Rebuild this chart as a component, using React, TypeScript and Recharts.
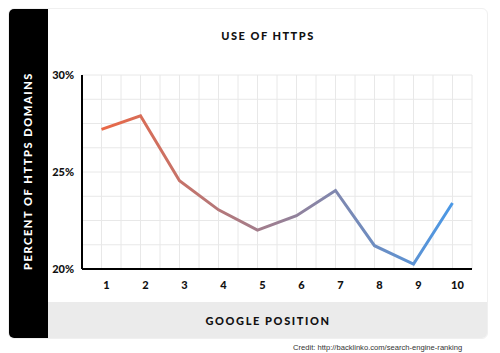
import { CartesianGrid, Line, LineChart, XAxis, YAxis } from "recharts";

// Google position (1..10) vs share of domains served over HTTPS
const positions = [1, 2, 3, 4, 5, 6, 7, 8, 9, 10];
const httpsShare = [27.2, 27.9, 24.55, 23.05, 22.0, 22.75, 24.05, 21.2, 20.25, 23.4];

// grid runs at half-steps on x and 1.25% steps on y; only some get a label
const xTicks = [0.5, 1, 1.5, 2, 2.5, 3, 3.5, 4, 4.5, 5, 5.5, 6, 6.5, 7, 7.5, 8, 8.5, 9, 9.5, 10, 10.5];
const yTicks = [20, 21.25, 22.5, 23.75, 25, 26.25, 27.5, 28.75, 30];
const yLabelled = [20, 25, 30];

const data = positions.map((p, i) => ({ position: p, share: httpsShare[i] }));

const FONT = "Lato, 'Open Sans', sans-serif";

export default function App() {
  return (
    <div style={{ position: "absolute", left: 0, top: 0, width: 500, height: 353, background: "#fff", fontFamily: FONT }}>
      {/* card */}
      <div
        style={{
          position: "absolute",
          left: 8,
          top: 8,
          width: 480,
          height: 331,
          border: "1px solid #f0f0f0",
          borderRadius: 6,
          boxSizing: "border-box",
          overflow: "hidden",
        }}
      >
        {/* black y-label strip */}
        <div style={{ position: "absolute", left: 0, top: 0, width: 39, height: "100%", background: "#000" }} />
        {/* grey x-label strip */}
        <div style={{ position: "absolute", left: 39, top: 293, right: 0, bottom: 0, background: "#ebebeb" }} />
      </div>

      <div
        style={{
          position: "absolute",
          left: 27,
          top: 171,
          transform: "translate(-50%, -50%) rotate(-90deg)",
          whiteSpace: "nowrap",
          color: "#fff",
          fontWeight: 900,
          fontSize: 11,
          letterSpacing: 1.6,
        }}
      >
        PERCENT OF HTTPS DOMAINS
      </div>

      <div
        style={{
          position: "absolute",
          left: 268,
          top: 35,
          transform: "translate(-50%, -50%)",
          whiteSpace: "nowrap",
          color: "#111",
          fontWeight: 900,
          fontSize: 11,
          letterSpacing: 1.5,
        }}
      >
        USE OF HTTPS
      </div>

      <div
        style={{
          position: "absolute",
          left: 268,
          top: 320,
          transform: "translate(-50%, -50%)",
          whiteSpace: "nowrap",
          color: "#111",
          fontWeight: 900,
          fontSize: 11,
          letterSpacing: 1.6,
        }}
      >
        GOOGLE POSITION
      </div>

      <div
        style={{
          position: "absolute",
          left: 293,
          top: 343,
          whiteSpace: "nowrap",
          color: "#333",
          fontFamily: "'Liberation Sans', Arial, sans-serif",
          fontSize: 7.6,
        }}
      >
        Credit: http://backlinko.com/search-engine-ranking
      </div>

      <div style={{ position: "absolute", left: 0, top: 0 }}>
        <LineChart width={500} height={353} data={data} margin={{ top: 75, right: 28, bottom: 54, left: 0 }}>
          <defs>
            <linearGradient id="httpsLine" x1="0" y1="0" x2="1" y2="0">
              <stop offset="0%" stopColor="#ea6846" />
              <stop offset="50%" stopColor="#9a7f93" />
              <stop offset="100%" stopColor="#4a98e6" />
            </linearGradient>
          </defs>
          <CartesianGrid stroke="#e8e8e8" strokeWidth={1} />
          <XAxis
            dataKey="position"
            type="number"
            domain={[0.5, 10.5]}
            ticks={xTicks}
            interval={0}
            tickFormatter={(v: number) => (Number.isInteger(v) ? String(v) : "")}
            tickLine={false}
            tickMargin={6}
            height={30}
            axisLine={{ stroke: "#000", strokeWidth: 2 }}
            tick={{ fontSize: 11, fontWeight: 900, fill: "#111", fontFamily: FONT, dx: 5 }}
          />
          <YAxis
            type="number"
            domain={[20, 30]}
            ticks={yTicks}
            interval={0}
            tickFormatter={(v: number) => (yLabelled.includes(v) ? `${v}%` : "")}
            tickLine={false}
            width={82}
            axisLine={{ stroke: "#000", strokeWidth: 2 }}
            tick={{ fontSize: 11, fontWeight: 900, fill: "#111", fontFamily: FONT }}
          />
          <Line
            type="linear"
            dataKey="share"
            stroke="url(#httpsLine)"
            strokeWidth={3}
            dot={false}
            activeDot={false}
            isAnimationActive={false}
          />
        </LineChart>
      </div>
    </div>
  );
}
